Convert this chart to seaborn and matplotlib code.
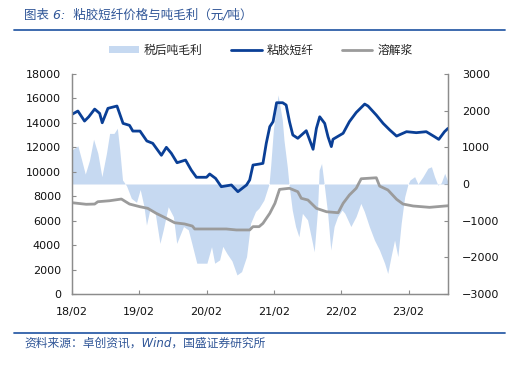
import pandas as pd
import seaborn as sns
import matplotlib.pyplot as plt
import matplotlib.dates as mdates
from matplotlib.patches import Patch
from matplotlib.lines import Line2D

# 粘胶短纤 price (left axis, 元/吨)
viscose_dates = ['2018-02-01', '2018-03-05', '2018-04-10', '2018-05-03', '2018-06-04', '2018-07-01',
                 '2018-07-15', '2018-08-15', '2018-10-03', '2018-11-05', '2018-12-10', '2018-12-28',
                 '2019-02-05', '2019-03-14', '2019-04-15', '2019-06-01', '2019-06-28', '2019-07-25',
                 '2019-08-25', '2019-10-10', '2019-11-10', '2019-12-08', '2020-02-01', '2020-02-18',
                 '2020-03-21', '2020-04-21', '2020-06-15', '2020-07-20', '2020-09-05', '2020-09-22',
                 '2020-10-10', '2020-11-12', '2020-12-03', '2020-12-21', '2021-01-09', '2021-01-27',
                 '2021-02-15', '2021-03-20', '2021-04-08', '2021-04-26', '2021-05-14', '2021-06-10',
                 '2021-07-26', '2021-09-01', '2021-09-19', '2021-10-07', '2021-11-03', '2021-11-21',
                 '2021-12-09', '2021-12-18', '2022-02-11', '2022-03-17', '2022-04-23', '2022-06-08',
                 '2022-06-26', '2022-08-10', '2022-09-16', '2022-10-22', '2022-11-28', '2023-01-21',
                 '2023-03-15', '2023-05-08', '2023-06-22', '2023-07-15', '2023-08-15', '2023-09-03']
viscose = [14700, 14970, 14150, 14500, 15130, 14780,
           14010, 15190, 15380, 13960, 13800, 13330,
           13330, 12520, 12330, 11350, 12000, 11510,
           10740, 10960, 10140, 9550, 9550, 9820,
           9460, 8780, 8920, 8370, 8920, 9330,
           10550, 10630, 10690, 12330, 13690, 14100,
           15650, 15650, 15460, 14100, 13010, 12740,
           13360, 11840, 13550, 14500, 13960, 12870,
           12060, 12660, 13150, 14100, 14850, 15540,
           15380, 14640, 13960, 13420, 12920, 13280,
           13200, 13280, 12870, 12650, 13280, 13550]

# 溶解浆 price (left axis, 元/吨)
pulp_dates = ['2018-02-01', '2018-04-19', '2018-06-04', '2018-06-21', '2018-08-24', '2018-10-27',
              '2018-12-10', '2019-02-05', '2019-03-19', '2019-05-04', '2019-06-28', '2019-08-12',
              '2019-10-05', '2019-11-16', '2019-11-29', '2020-05-18', '2020-07-12', '2020-09-22',
              '2020-10-10', '2020-11-12', '2020-12-03', '2021-01-09', '2021-02-06', '2021-03-03',
              '2021-04-26', '2021-06-10', '2021-06-29', '2021-08-04', '2021-09-19', '2021-11-13',
              '2022-01-15', '2022-02-11', '2022-03-17', '2022-04-23', '2022-05-20', '2022-08-10',
              '2022-08-28', '2022-10-12', '2022-11-28', '2023-01-02', '2023-02-26', '2023-05-26',
              '2023-09-03']
pulp = [7470, 7340, 7360, 7550, 7630, 7770,
        7360, 7140, 7010, 6600, 6190, 5830,
        5730, 5560, 5320, 5320, 5240, 5240,
        5510, 5510, 5780, 6600, 7420, 8560,
        8650, 8370, 7830, 7690, 7010, 6730,
        6650, 7420, 8100, 8650, 9430, 9510,
        8830, 8510, 7750, 7360, 7200, 7090,
        7220]

# 税后吨毛利 (right axis, 元/吨)
profit_dates = ['2018-02-01', '2018-03-05', '2018-03-23', '2018-04-14', '2018-05-07', '2018-05-29',
                '2018-06-21', '2018-07-13', '2018-08-07', '2018-08-24', '2018-09-17', '2018-10-05',
                '2018-10-18', '2018-11-02', '2018-11-24', '2018-12-20', '2019-01-17', '2019-02-06',
                '2019-02-26', '2019-03-12', '2019-03-30', '2019-04-27', '2019-05-24', '2019-06-11',
                '2019-07-08', '2019-08-05', '2019-08-23', '2019-09-29', '2019-10-25', '2019-11-13',
                '2019-12-10', '2020-02-03', '2020-02-28', '2020-03-16', '2020-04-12', '2020-04-29',
                '2020-05-22', '2020-06-18', '2020-07-15', '2020-08-09', '2020-09-05', '2020-09-27',
                '2020-10-24', '2020-11-11', '2020-12-08', '2021-01-05', '2021-01-14', '2021-01-29',
                '2021-02-23', '2021-03-18', '2021-03-27', '2021-04-14', '2021-04-23', '2021-05-11',
                '2021-05-29', '2021-06-16', '2021-07-05', '2021-08-02', '2021-08-29', '2021-09-07',
                '2021-09-25', '2021-10-04', '2021-10-17', '2021-10-31', '2021-11-19', '2021-12-06',
                '2021-12-24', '2022-01-12', '2022-02-05', '2022-02-20', '2022-03-25', '2022-04-22',
                '2022-05-18', '2022-06-06', '2022-07-03', '2022-07-31', '2022-08-27', '2022-09-24',
                '2022-10-11', '2022-10-29', '2022-11-17', '2022-12-05', '2022-12-23', '2023-01-11',
                '2023-01-29', '2023-02-09', '2023-03-06', '2023-03-24', '2023-04-20', '2023-05-17',
                '2023-06-05', '2023-06-22', '2023-07-10', '2023-07-28', '2023-08-16', '2023-09-03']
profit = [930, 1040, 700, 270, 650, 1220,
          840, 200, 840, 1380, 1380, 1520,
          930, 110, -50, -390, -500, -150,
          -600, -1120, -710, -750, -1620, -1250,
          -620, -890, -1620, -1160, -1250, -1620,
          -2160, -2160, -1710, -2160, -2070, -1700,
          -1900, -2100, -2480, -2390, -1980, -1070,
          -750, -660, -440, 0, 500, 1500,
          2430, 1750, 1200, 470, 0, -710,
          -1160, -1440, -800, -980, -1620, -1850,
          -710, 380, 560, 0, -800, -1800,
          -1160, -890, -710, -800, -1160, -890,
          -530, -750, -1160, -1530, -1800, -2160,
          -2440, -1980, -1530, -1980, -1070, -350,
          0, 110, 200, 0, 200, 430,
          470, 200, -30, 30, 290, 50]

year_ticks = ['2018-02-01', '2019-02-01', '2020-02-01', '2021-02-01', '2022-02-01', '2023-02-01']

df_v = pd.DataFrame({'date': pd.to_datetime(viscose_dates), 'value': viscose})
df_p = pd.DataFrame({'date': pd.to_datetime(pulp_dates), 'value': pulp})
df_m = pd.DataFrame({'date': pd.to_datetime(profit_dates), 'value': profit})

sns.set_style('ticks')
plt.rcParams['font.family'] = ['DejaVu Sans', 'Noto Sans CJK SC']

c_blue = '#0A3F96'
c_gray = '#9B9B9B'
c_area = '#C6D9F1'
c_text = '#2F5597'
c_axis = '#8C8C8C'

fig = plt.figure(figsize=(5.21, 3.66), dpi=100)
ax = fig.add_axes([72 / 521, 1 - 294 / 366, 376 / 521, 220 / 366])
ax2 = ax.twinx()

# profit area on right axis, kept below the price lines
ax2.fill_between(df_m['date'], df_m['value'], 0, color=c_area, lw=0)
ax.set_zorder(ax2.get_zorder() + 1)
ax.patch.set_visible(False)

sns.lineplot(data=df_v, x='date', y='value', ax=ax, color=c_blue, lw=2.0)
sns.lineplot(data=df_p, x='date', y='value', ax=ax, color=c_gray, lw=2.0)

ax.set_xlim(pd.Timestamp('2018-02-01'), pd.Timestamp('2023-09-03'))
ax.set_ylim(0, 18000)
ax.set_yticks(range(0, 18001, 2000))
ax2.set_ylim(-3000, 3000)
ax2.set_yticks(range(-3000, 3001, 1000))
ax.set_xticks(pd.to_datetime(year_ticks))
ax.xaxis.set_major_formatter(mdates.DateFormatter('%y/%m'))
ax.set_xlabel('')
ax.set_ylabel('')

for a in (ax, ax2):
    for s in a.spines.values():
        s.set_color(c_axis)
        s.set_linewidth(0.9)
    a.spines['top'].set_visible(False)
    a.tick_params(direction='in', length=3, width=0.8, color=c_axis, labelsize=8, labelcolor='#111111')
ax.tick_params(axis='y', pad=8)
ax.tick_params(axis='x', pad=9)
ax2.tick_params(axis='y', pad=10)

# legend
handles = [Patch(facecolor=c_area, edgecolor='none'),
           Line2D([], [], color=c_blue, lw=2.0),
           Line2D([], [], color=c_gray, lw=2.0)]
fig.legend(handles, ['税后吨毛利', '粘胶短纤', '溶解浆'], loc='center', ncol=3,
           bbox_to_anchor=(0.5, 1 - 50 / 366), frameon=False, fontsize=8.5,
           handlelength=2.6, handleheight=0.6, handletextpad=0.4, columnspacing=2.4)

# title, rules and source
fig.text(24 / 521, 1 - 15 / 366, '图表 6:  粘胶短纤价格与吨毛利（元/吨）', fontsize=9,
         color=c_text, style='italic', va='center', ha='left')
fig.add_artist(Line2D([14 / 521, 505 / 521], [1 - 30 / 366] * 2, color='#2E5FA8', lw=1.3))
fig.add_artist(Line2D([14 / 521, 505 / 521], [1 - 333 / 366] * 2, color='#2E5FA8', lw=1.3))
fig.text(24 / 521, 1 - 343 / 366, '资料来源：卓创资讯，Wind，国盛证券研究所', fontsize=8.5,
         color=c_text, style='italic', va='center', ha='left')

fig.savefig('out.png', dpi=100)
